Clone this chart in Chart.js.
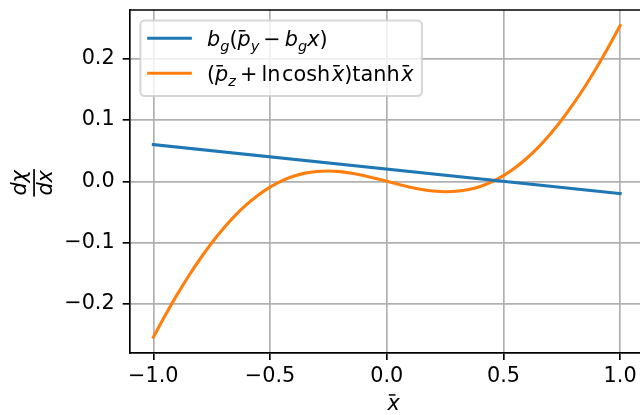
<!DOCTYPE html>
<html>
<head>
<meta charset="utf-8">
<script src="https://cdn.jsdelivr.net/npm/chart.js@4"></script>
<style>
  html, body { margin: 0; padding: 0; overflow: hidden; background: #fff; }
  #wrap { position: relative; width: 660px; height: 415px; }
</style>
</head>
<body>
<div id="wrap"><canvas id="chart"></canvas></div>
<script>
// Axis ticks
const xTicks = [-1.0, -0.5, 0.0, 0.5, 1.0];
const yTicks = [-0.2, -0.1, 0.0, 0.1, 0.2];

// Straight line b_g(p_y - b_g x)
const lineX = [-1.0, 1.0];
const lineY = [0.060, -0.020];

// Curve (p_z + ln cosh x) tanh x
const curveX = [-1.00, -0.95, -0.90, -0.85, -0.80, -0.75, -0.70, -0.65, -0.60, -0.55,
                -0.50, -0.45, -0.40, -0.35, -0.30, -0.25, -0.20, -0.15, -0.10, -0.05,
                 0.00,  0.05,  0.10,  0.15,  0.20,  0.25,  0.30,  0.35,  0.40,  0.45,
                 0.50,  0.55,  0.60,  0.65,  0.70,  0.75,  0.80,  0.85,  0.90,  0.95, 1.00];
const curveY = [-0.2542, -0.2192, -0.1861, -0.1552, -0.1267, -0.1005, -0.0769, -0.0559, -0.0377, -0.0221,
                -0.0093,  0.0008,  0.0084,  0.0134,  0.0162,  0.0169,  0.0158,  0.0132,  0.0095,  0.0049,
                 0.0000, -0.0049, -0.0095, -0.0132, -0.0158, -0.0169, -0.0162, -0.0134, -0.0084, -0.0008,
                 0.0093,  0.0221,  0.0377,  0.0559,  0.0769,  0.1005,  0.1267,  0.1552,  0.1861,  0.2192, 0.2542];

const FONT = "'DejaVu Sans'";
const FS = 20.8;
const BLUE = '#1f77b4';
const ORANGE = '#ff7f0e';

// Legend labels as small math runs: it = italic, sub = subscript, bar = overbar, sp = space (em)
const legendRuns = [
  [ {t:'b', it:1}, {t:'g', it:1, sub:1}, {t:'('}, {t:'p', it:1, bar:1}, {t:'y', it:1, sub:1},
    {sp:0.195}, {t:'\u2212'}, {sp:0.195}, {t:'b', it:1}, {t:'g', it:1, sub:1}, {t:'x', it:1}, {t:')'} ],
  [ {t:'('}, {t:'p', it:1, bar:1}, {t:'z', it:1, sub:1}, {sp:0.195}, {t:'+'}, {sp:0.195},
    {t:'ln'}, {sp:0.08}, {t:'cosh'}, {sp:0.08}, {t:'x', it:1, bar:1}, {t:')'}, {t:'tanh'}, {sp:0.08}, {t:'x', it:1, bar:1} ]
];
const legendColors = [BLUE, ORANGE];

function drawMath(ctx, runs, x, y, F, measureOnly) {
  let cx = x;
  ctx.textBaseline = 'alphabetic';
  ctx.textAlign = 'left';
  for (const r of runs) {
    if (r.sp) { cx += r.sp * F; continue; }
    const size = r.sub ? F * 0.7 : F;
    ctx.font = (r.it ? 'italic ' : '') + size + 'px ' + FONT;
    const w = ctx.measureText(r.t).width;
    const by = y + (r.sub ? F * 0.24 : 0);
    if (!measureOnly) {
      ctx.fillText(r.t, cx, by);
      if (r.bar) ctx.fillRect(cx + 0.06 * F, by - 0.76 * F, 0.32 * F, 1.5);
    }
    cx += w;
  }
  return cx - x;
}

const fmt = v => (Math.abs(v) < 1e-9 ? '0.0' : v.toFixed(1)).replace('-', '\u2212');

const decorations = {
  id: 'decorations',
  afterDatasetsDraw(chart) {
    const ctx = chart.ctx;
    const a = chart.chartArea;
    ctx.save();
    // top and right spines
    ctx.strokeStyle = '#000';
    ctx.lineWidth = 1.67;
    ctx.beginPath();
    ctx.moveTo(a.left - 0.8, a.top);
    ctx.lineTo(a.right, a.top);
    ctx.lineTo(a.right, a.bottom);
    ctx.stroke();

    // legend
    const pad = 0.4 * FS, axPad = 0.5 * FS;
    const bx = a.left + axPad, by = a.top + axPad;
    const textX = bx + pad + 2.0 * FS + 0.8 * FS;
    let maxW = 0;
    legendRuns.forEach(r => { maxW = Math.max(maxW, drawMath(ctx, r, 0, 0, FS, true)); });
    const bw = textX + maxW + pad - bx;
    const bh = 75.6;
    const rad = 0.2 * FS;
    ctx.beginPath();
    ctx.roundRect(bx, by, bw, bh, rad);
    ctx.fillStyle = 'rgba(255,255,255,0.8)';
    ctx.fill();
    ctx.strokeStyle = 'rgba(204,204,204,0.8)';
    ctx.lineWidth = 2;
    ctx.stroke();
    const rowY = [a.top + 28.3, a.top + 63.3];
    legendRuns.forEach((r, i) => {
      ctx.strokeStyle = legendColors[i];
      ctx.lineWidth = 3.1;
      ctx.lineCap = 'square';
      ctx.beginPath();
      ctx.moveTo(bx + pad, rowY[i]);
      ctx.lineTo(bx + pad + 2.0 * FS, rowY[i]);
      ctx.stroke();
      ctx.fillStyle = '#000';
      drawMath(ctx, r, textX, rowY[i] + 7.5, FS, false);
    });

    // x axis title
    ctx.fillStyle = '#000';
    const xt = [{t:'x', it:1, bar:1}];
    const xw = drawMath(ctx, xt, 0, 0, FS, true);
    drawMath(ctx, xt, (a.left + a.right) / 2 + 7 - xw / 2, 410, FS, false);

    // y axis title: d(chi)/dx, rotated
    ctx.translate(34, (a.top + a.bottom) / 2 + 1.5);
    ctx.rotate(-Math.PI / 2);
    const num = [{t:'d', it:1}, {t:'\u03c7', it:1}];
    const den = [{t:'d', it:1}, {t:'x', it:1}];
    const wn = drawMath(ctx, num, 0, 0, FS, true);
    const wd = drawMath(ctx, den, 0, 0, FS, true);
    const bar = Math.max(wn, wd) + 2;
    ctx.fillRect(-bar / 2, -0.8, bar, 1.7);
    drawMath(ctx, num, -wn / 2, -8.5, FS, false);
    drawMath(ctx, den, -wd / 2, 17.5, FS, false);
    ctx.restore();
  }
};

const tickFont = { family: FONT, size: FS };

new Chart(document.getElementById('chart'), {
  type: 'line',
  data: {
    datasets: [
      {
        label: 'b_g(p_y - b_g x)',
        data: lineX.map((x, i) => ({ x, y: lineY[i] })),
        borderColor: BLUE,
        borderWidth: 3.1,
        pointRadius: 0,
        tension: 0,
        borderCapStyle: 'square'
      },
      {
        label: '(p_z + ln cosh x) tanh x',
        data: curveX.map((x, i) => ({ x, y: curveY[i] })),
        borderColor: ORANGE,
        borderWidth: 3.1,
        pointRadius: 0,
        tension: 0.3,
        borderCapStyle: 'square'
      }
    ]
  },
  options: {
    responsive: true,
    maintainAspectRatio: false,
    animation: false,
    devicePixelRatio: 1,
    layout: { padding: { left: 0, top: 10, right: 16.5, bottom: 0 } },
    plugins: { legend: { display: false }, tooltip: { enabled: false } },
    scales: {
      x: {
        type: 'linear',
        min: -1.1,
        max: 1.1,
        afterBuildTicks: s => { s.ticks = xTicks.map(v => ({ value: v })); },
        afterFit: s => { s.height = 62.3; s.paddingLeft = 0; s.paddingRight = 0; },
        ticks: { font: tickFont, color: '#000', padding: 4, maxRotation: 0, autoSkip: false, callback: v => fmt(v) },
        grid: { color: '#b0b0b0', lineWidth: 1.67, tickColor: '#000', tickLength: 7.3, tickWidth: 1.67 },
        border: { color: '#000', width: 1.67 }
      },
      y: {
        type: 'linear',
        min: -0.2796,
        max: 0.2796,
        afterBuildTicks: s => { s.ticks = yTicks.map(v => ({ value: v })); },
        afterFit: s => { s.width = 130; s.paddingTop = 0; s.paddingBottom = 0; },
        ticks: { font: tickFont, color: '#000', padding: 8, autoSkip: false, callback: v => fmt(v) },
        grid: { color: '#b0b0b0', lineWidth: 1.67, tickColor: '#000', tickLength: 7.3, tickWidth: 1.67 },
        border: { color: '#000', width: 1.67 }
      }
    }
  },
  plugins: [decorations]
});
</script>
</body>
</html>
